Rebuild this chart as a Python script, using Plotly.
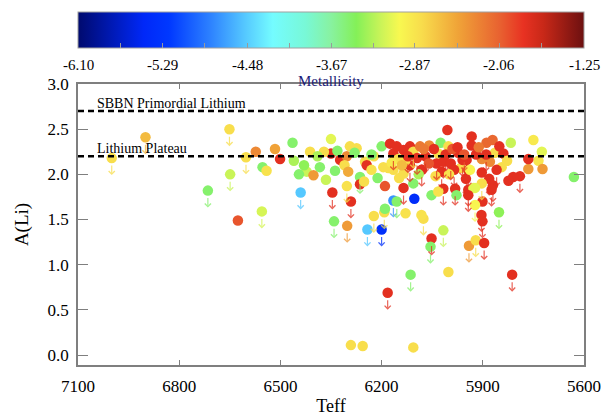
import plotly.graph_objects as go
from plotly.colors import sample_colorscale

# ---------------- data ----------------
# effective temperature (K)
teff = [7000, 6900, 6651, 6602, 6573, 6649, 6715, 6626, 6555, 6553,
        6541, 6516, 6501, 6464, 6412, 6422, 6402, 6383, 6365, 6350,
        6350, 6371, 6331, 6338, 6323, 6303, 6310, 6294, 6299, 6303,
        6264, 6264, 6274, 6249, 6244, 6223, 6230, 6200, 6212, 6195,
        6190, 6175, 6165, 6155, 6135, 6116, 6106, 6086, 6180, 6165,
        6135, 6116, 6081, 6106, 6346, 6440, 6291, 6341, 6302, 6242,
        6200, 6223, 6192, 6165, 6155, 6135, 6129, 6103, 6190, 6076,
        6082, 6052, 6055, 6114, 6182, 6002, 5813, 6291, 6256, 6106,
        5941, 5921, 6017, 6005, 5933, 5750, 5817, 5725, 5735, 5723,
        5765, 5765, 5630, 5790, 5810, 5824, 5844, 5864, 5889, 5871,
        5851, 5839, 5879, 5859, 5870, 5881, 5903, 5903, 5923, 5901,
        5904, 5901, 5896, 5923, 5852, 6025, 6002, 6059, 6032, 5973,
        5933, 5903, 5948, 6037, 6017, 5995, 5965, 5985, 6081, 6022,
        5943, 5960, 6017, 5982, 5943, 5928, 6052, 6032, 5978, 5943,
        5874, 6150, 6130, 6095, 6070, 6060, 6045, 6010, 5990, 6075,
        6140, 6122, 5975, 5955, 5920, 5912, 5890, 5828, 6090, 6000,
        5950, 5938, 6040, 6148, 6170, 6445, 6430, 6460, 6390, 6280,
        6230, 6252]
# lithium abundance A(Li)
ali = [2.18, 2.41, 2.50, 2.19, 2.25, 2.00, 1.82, 1.49, 1.59, 2.08,
       2.04, 2.28, 2.17, 2.35, 2.25, 2.03, 1.99, 2.08, 1.94, 2.39,
       2.23, 2.25, 2.26, 2.04, 2.16, 2.20, 2.10, 2.31, 2.03, 1.87,
       1.97, 1.89, 2.29, 2.14, 2.10, 2.20, 2.22, 2.31, 1.96, 2.08,
       1.87, 2.34, 2.23, 2.31, 2.27, 2.31, 2.25, 2.31, 2.07, 2.05,
       2.01, 2.10, 2.05, 1.90, 1.80, 1.80, 1.70, 1.48, 1.43, 1.39,
       1.39, 1.54, 1.58, 1.71, 1.70, 1.85, 1.57, 1.73, 1.62, 1.51,
       1.55, 1.29, 1.20, 0.89, 0.69, 0.92, 0.89, 0.11, 0.10, 0.085,
       1.21, 1.27, 1.38, 2.49, 2.42, 2.38, 2.35, 2.25, 2.15, 2.06,
       2.06, 2.17, 1.97, 1.98, 1.97, 1.93, 2.08, 2.24, 2.35, 2.38,
       2.31, 2.23, 2.14, 2.05, 1.88, 1.95, 2.02, 1.90, 1.85, 1.70,
       1.55, 1.48, 1.24, 1.66, 1.58, 2.35, 2.31, 2.32, 2.23, 2.24,
       2.32, 2.17, 2.16, 2.12, 2.14, 2.12, 2.07, 2.05, 2.05, 2.03,
       2.05, 2.16, 1.84, 1.84, 1.83, 1.85, 1.77, 1.81, 1.77, 1.77,
       1.83, 2.17, 2.15, 2.18, 2.20, 2.12, 2.28, 2.22, 2.28, 2.28,
       2.10, 2.20, 2.30, 2.22, 2.22, 2.30, 2.22, 2.15, 2.00, 2.00,
       1.95, 2.05, 1.98, 1.96, 2.13, 2.00, 2.10, 2.15, 2.20, 2.24,
       2.05, 1.92]
# metallicity [Fe/H] (colour)
feh = [-2.82, -2.6, -2.82, -2.82, -2.3, -3.2, -3.5, -2.0, -3.15, -3.5,
       -2.85, -2.45, -1.8, -3.5, -2.82, -3.2, -2.4, -3.5, -3.2, -3.1,
       -1.8, -2.82, -3.5, -3.5, -1.8, -2.3, -2.82, -2.82, -2.5, -2.85,
       -3.5, -1.8, -2.82, -2.82, -1.8, -2.82, -3.5, -3.5, -3.5, -2.82,
       -2.0, -1.8, -1.8, -1.8, -1.8, -1.8, -2.82, -2.2, -2.82, -2.82,
       -2.82, -1.8, -1.8, -3.5, -1.8, -4.5, -1.8, -3.5, -2.4, -4.5,
       -5.35, -2.82, -2.82, -4.75, -3.5, -1.8, -2.85, -5.4, -3.5, -2.82,
       -2.85, -1.8, -3.5, -3.5, -1.8, -2.82, -1.8, -2.82, -2.82, -2.82,
       -2.4, -2.82, -3.2, -1.8, -1.8, -2.9, -3.2, -3.1, -2.88, -2.4,
       -2.4, -1.8, -3.5, -1.8, -1.8, -1.8, -2.82, -2.82, -2.1, -2.1,
       -1.8, -1.8, -2.3, -1.8, -1.8, -1.8, -1.8, -2.82, -3.1, -1.8,
       -1.8, -1.8, -1.8, -3.0, -3.4, -3.5, -2.82, -2.3, -2.82, -1.8,
       -1.8, -2.3, -1.8, -1.8, -1.8, -1.8, -2.82, -1.8, -1.8, -1.8,
       -1.8, -1.8, -1.8, -1.8, -1.8, -3.1, -3.5, -2.85, -3.5, -1.8,
       -1.8, -2.82, -2.82, -1.8, -1.8, -2.0, -1.8, -1.8, -2.0, -2.2,
       -2.6, -1.8, -1.8, -2.0, -1.8, -2.2, -1.8, -2.82, -3.3, -2.85,
       -1.8, -3.0, -2.82, -2.82, -2.9, -3.5, -3.4, -3.3, -3.3, -3.5,
       -2.85, -2.82]
# 1 = upper limit (drawn with a downward arrow)
upper = [1, 1, 1, 1, 0, 1, 1, 0, 1, 0,
         0, 0, 0, 0, 0, 0, 0, 0, 0, 0,
         0, 0, 0, 0, 0, 0, 0, 0, 0, 1,
         1, 0, 0, 0, 0, 0, 0, 0, 0, 0,
         0, 0, 1, 0, 0, 0, 1, 0, 0, 0,
         0, 1, 1, 0, 1, 1, 1, 1, 1, 1,
         1, 1, 1, 1, 1, 1, 0, 0, 0, 1,
         0, 1, 1, 1, 1, 0, 1, 0, 0, 0,
         1, 1, 1, 0, 0, 0, 0, 0, 0, 0,
         0, 0, 0, 1, 0, 0, 0, 0, 0, 0,
         0, 0, 0, 1, 1, 1, 0, 1, 0, 0,
         1, 1, 1, 1, 1, 0, 0, 0, 0, 0,
         0, 0, 0, 1, 1, 1, 0, 1, 0, 1,
         1, 1, 1, 1, 1, 0, 0, 0, 0, 1,
         1, 0, 0, 1, 1, 0, 0, 1, 0, 0,
         0, 1, 0, 1, 0, 0, 1, 0, 0, 0,
         1, 0, 0, 0, 0, 0, 0, 0, 0, 0,
         0, 0]

x_ticks = [7100, 6800, 6500, 6200, 5900, 5600]
y_ticks = [0.0, 0.5, 1.0, 1.5, 2.0, 2.5, 3.0]
cb_tickvals = [-6.10, -5.29, -4.48, -3.67, -2.87, -2.06, -1.25]
cb_ticktext = ["-6.10", "-5.29", "-4.48", "-3.67", "-2.87", "-2.06", "-1.25"]
cb_title = "Metallicity"
sbbn_li = 2.7
plateau_li = 2.2
sbbn_label = "SBBN Primordial Lithium"
plateau_label = "Lithium Plateau"

# ---------------- styling ----------------
FONT = "Liberation Serif, Times New Roman, serif"
AXIS_GRAY = "#7f7f7f"
cmin, cmax = cb_tickvals[0], cb_tickvals[-1]
cscale = [
    [0.0, "#000a6e"], [0.13, "#0028f8"], [0.18, "#0038ff"], [0.26, "#2c80ff"],
    [0.33, "#55c8ff"], [0.385, "#74fcff"], [0.45, "#78f8d6"], [0.5, "#88f2a0"],
    [0.55, "#84f058"], [0.6, "#ccf458"], [0.635, "#f8f850"], [0.68, "#f8dc4c"],
    [0.75, "#f0a438"], [0.835, "#e86030"], [0.88, "#e83222"], [0.92, "#c82818"],
    [1.0, "#6c1010"],
]

# minor ticks on the colour bar (every half label step)
cb_minor = []
for i, v in enumerate(cb_tickvals[:-1]):
    cb_minor.append(v)
    cb_minor.append((v + cb_tickvals[i + 1]) / 2)
cb_minor.append(cb_tickvals[-1])

fig = go.Figure()
fig.add_trace(go.Scatter(
    x=teff, y=ali, mode="markers",
    marker=dict(
        size=10.5, color=feh, colorscale=cscale, cmin=cmin, cmax=cmax,
        line=dict(width=0), opacity=1,
        showscale=True,
        colorbar=dict(
            orientation="h", x=0.5, xanchor="center", len=1, lenmode="fraction",
            y=1.255, yanchor="top", thickness=36, xpad=0, ypad=0,
            outlinecolor="#a0a0a0", outlinewidth=1,
            tickvals=cb_minor, ticks="inside", ticklen=5, tickcolor="#9a9a9a",
            showticklabels=False,
        ),
    ),
    hoverinfo="skip",
))

annotations = []
for t, a, m, u in zip(teff, ali, feh, upper):
    if u:
        col = sample_colorscale(cscale, (m - cmin) / (cmax - cmin))[0]
        annotations.append(dict(
            x=t, y=a, xref="x", yref="y", text="", showarrow=True,
            arrowhead=4, arrowsize=1, arrowwidth=1.2, arrowcolor=col,
            ax=0, ay=-11, yshift=-17, opacity=0.75,
        ))

# colour bar labels placed along the bar's linear value scale
for v, txt in zip(cb_tickvals, cb_ticktext):
    annotations.append(dict(
        x=(v - cmin) / (cmax - cmin), xref="paper", y=1.068, yref="paper",
        text=txt, showarrow=False, xanchor="center", yanchor="middle",
        font=dict(family=FONT, size=15, color="black"),
    ))
annotations.append(dict(
    x=0.5, xref="paper", y=1.01, yref="paper", text=cb_title, showarrow=False,
    xanchor="center", yanchor="middle",
    font=dict(family=FONT, size=15, color="#1c1c78"),
))

annotations.append(dict(x=0.034, xref="paper", y=sbbn_li, yref="y", text=sbbn_label,
                        showarrow=False, xanchor="left", yanchor="middle", yshift=8,
                        font=dict(family=FONT, size=14, color="black")))
annotations.append(dict(x=0.034, xref="paper", y=plateau_li, yref="y", text=plateau_label,
                        showarrow=False, xanchor="left", yanchor="middle", yshift=8,
                        font=dict(family=FONT, size=14, color="black")))

shapes = []
for yv in (sbbn_li, plateau_li):
    shapes.append(dict(type="line", xref="paper", x0=0, x1=1, yref="y", y0=yv, y1=yv,
                       line=dict(color="black", width=2.5, dash="6px,4px")))

# the page body adds an 8px offset, so the figure is 8px smaller and margins shifted
fig.update_layout(
    width=606, height=408,
    margin=dict(l=70, r=30, t=76, b=51, autoexpand=False),
    plot_bgcolor="white", paper_bgcolor="white",
    font=dict(family=FONT, color="black"),
    showlegend=False,
    annotations=annotations,
    shapes=shapes,
    xaxis=dict(
        range=[x_ticks[0], x_ticks[-1]], tickvals=x_ticks,
        ticks="inside", ticklen=5, tickcolor=AXIS_GRAY, tickwidth=1,
        showline=True, linecolor=AXIS_GRAY, linewidth=1.5, mirror="ticks",
        showgrid=False, zeroline=False, ticklabelstandoff=5, automargin=False,
        tickfont=dict(family=FONT, size=17),
        title=dict(text="Teff", font=dict(family=FONT, size=18), standoff=7),
    ),
    yaxis=dict(
        range=[-0.11, 3.0], tickvals=y_ticks, tickformat=".1f",
        ticks="inside", ticklen=10, tickcolor=AXIS_GRAY, tickwidth=1,
        showline=True, linecolor=AXIS_GRAY, linewidth=1.5, mirror="ticks",
        showgrid=False, zeroline=False, ticklabelstandoff=4, automargin=False,
        tickfont=dict(family=FONT, size=17),
        title=dict(text="A(Li)", font=dict(family=FONT, size=19), standoff=14),
    ),
)

fig.write_html("out.html")
